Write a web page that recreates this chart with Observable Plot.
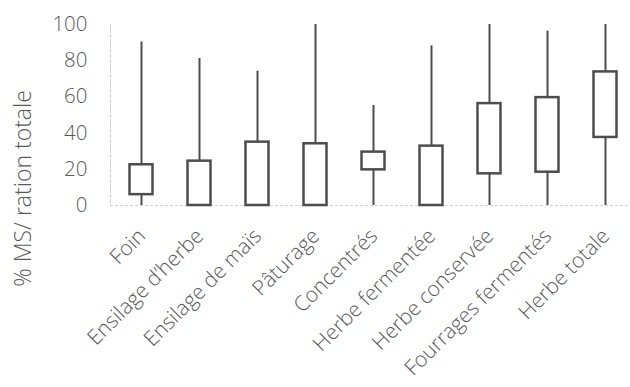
<!DOCTYPE html>
<html>
<head>
<meta charset="utf-8">
<script src="https://cdn.jsdelivr.net/npm/d3@7"></script>
<script src="https://cdn.jsdelivr.net/npm/@observablehq/plot@0.6"></script>
<style>
  html, body { margin: 0; padding: 0; background: #fff; overflow: hidden; }
</style>
</head>
<body>
<div id="chart"></div>
<script>
const categories = ["Foin", "Ensilage d\u2019herbe", "Ensilage de maïs", "Pâturage", "Concentrés", "Herbe fermentée", "Herbe conservée", "Fourrages fermentés", "Herbe totale"];
const minValues = [0, 0, 0, 0, 0, 0, 0, 0, 0];
const q1Values = [6, 0, 0, 0, 19.7, 0, 17.5, 18.4, 37.6];
const q3Values = [22.5, 24.5, 35, 34.1, 29.5, 32.8, 56.3, 59.6, 73.8];
const maxValues = [90.4, 81.2, 74.2, 100, 55.3, 88.2, 100, 96.3, 100];
const yTicks = [0, 20, 40, 60, 80, 100];
const yTitle = "% MS/ ration totale";

const rows = categories.map((c, i) => ({cat: c, min: minValues[i], q1: q1Values[i], q3: q3Values[i], max: maxValues[i]}));

const textColor = "#595959";
const lineColor = "#4d4d4d";
const font = "'Open Sans', sans-serif";

const chart = Plot.plot({
  width: 630,
  height: 387,
  marginLeft: 110,
  marginRight: 0,
  marginTop: 24,
  marginBottom: 182,
  style: {fontFamily: font, fontWeight: 300, color: textColor, background: "#fff", overflow: "visible"},
  x: {type: "band", domain: categories, range: [110, 635], padding: 0},
  y: {domain: [0, 100], range: [205, 24]},
  marks: [
    Plot.frame({anchor: "left", stroke: "#d0d0d0", strokeDasharray: "3,2"}),
    Plot.ruleY([0], {stroke: "#d0d0d0", strokeDasharray: "3,2"}),
    Plot.ruleX(rows, {x: "cat", y1: "min", y2: "max", stroke: lineColor, strokeWidth: 2}),
    Plot.barY(rows, {x: "cat", y1: "q1", y2: "q3", fill: "#fff", stroke: lineColor, strokeWidth: 2.5, insetLeft: 17.5, insetRight: 17.5}),
    Plot.axisY({ticks: yTicks, tickSize: 0, tickPadding: 23, fontSize: 20.5, fill: textColor, label: null}),
    Plot.axisX({tickSize: 0, tickRotate: -45, tickPadding: 27, dx: 0.5, fontSize: 21, fill: textColor, label: null}),
    Plot.text([yTitle], {frameAnchor: "left", rotate: -90, textAnchor: "middle", lineAnchor: "middle", dx: -87, dy: 73.5, fontSize: 23, fill: textColor})
  ]
});
document.getElementById("chart").appendChild(chart);
</script>
</body>
</html>
